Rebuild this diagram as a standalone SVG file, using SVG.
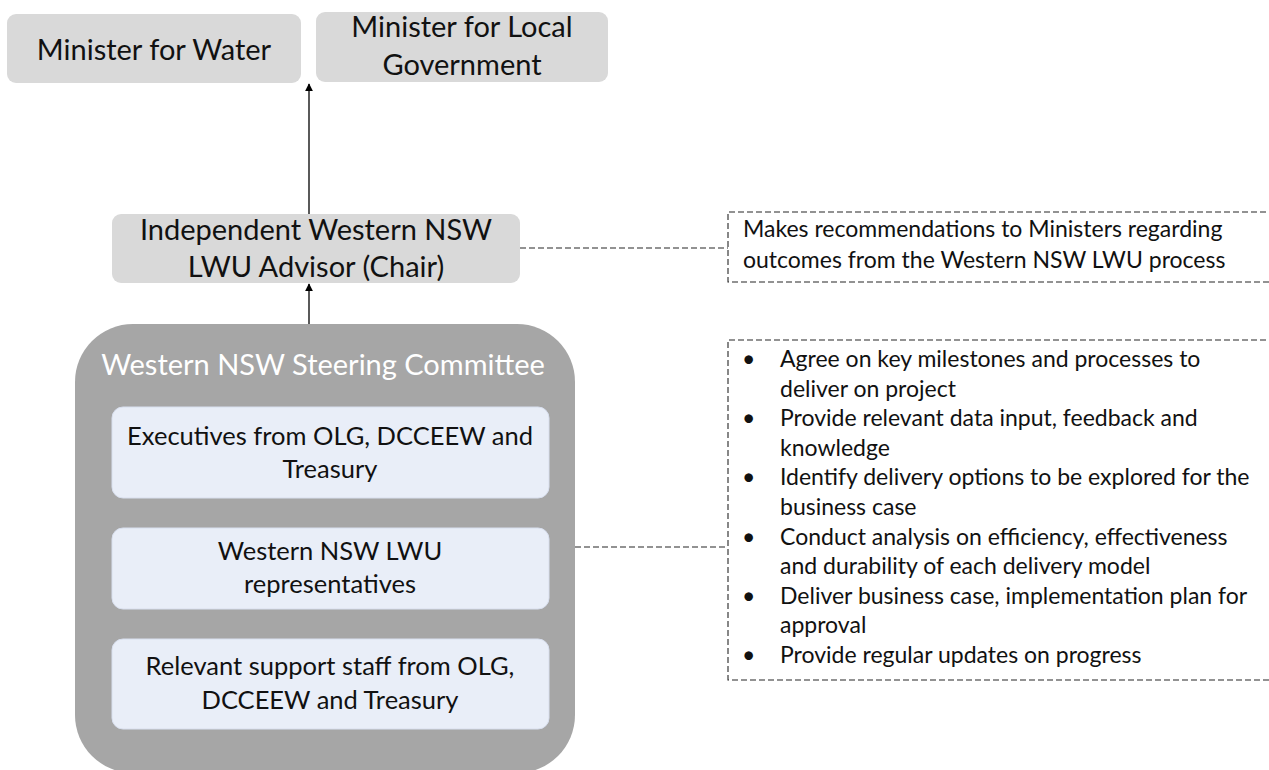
<svg xmlns="http://www.w3.org/2000/svg" width="1269" height="770" viewBox="0 0 1269 770">
  <style>
    .lbl { font-family: Lato, "Open Sans", "Liberation Sans", sans-serif; font-size: 29px; fill: #111; text-anchor: middle; }
    .sub { font-size: 25.5px; }
    .title { fill: #fff; }
    .note { font-family: Lato, "Open Sans", "Liberation Sans", sans-serif; font-size: 23px; fill: #111; }
    .grey { fill: #d9d9d9; }
    .member { fill: #e9eef8; stroke: #d8dfee; stroke-width: 1; }
    .dash { fill: none; stroke: #262626; stroke-width: 1.1; stroke-dasharray: 6 3; }
    .arrow { stroke: #000; stroke-width: 1.3; fill: none; marker-end: url(#head); }
  </style>
  <defs>
    <marker id="head" viewBox="0 0 10 10" refX="9" refY="5" markerWidth="8" markerHeight="8" markerUnits="userSpaceOnUse" orient="auto">
      <path d="M0,0 L10,5 L0,10 Z" fill="#000"/>
    </marker>
  </defs>
  <rect width="1269" height="770" fill="#fff"/>

  <g id="minister-water">
    <rect class="grey" x="7" y="14" width="294" height="69" rx="9"/>
    <text class="lbl" x="154" y="60">Minister for Water</text>
  </g>

  <g id="minister-local-government">
    <rect class="grey" x="316" y="12" width="292" height="70" rx="9"/>
    <text class="lbl" x="462" y="37">Minister for Local</text>
    <text class="lbl" x="462" y="75">Government</text>
  </g>

  <g id="advisor">
    <rect class="grey" x="112" y="214" width="408" height="69" rx="9"/>
    <text class="lbl" x="316" y="240">Independent Western NSW</text>
    <text class="lbl" x="316" y="277">LWU Advisor (Chair)</text>
  </g>

  <g id="steering-committee">
    <rect x="75" y="324" width="500" height="449" rx="58" fill="#a6a6a6"/>
    <text class="lbl title" x="323" y="375">Western NSW Steering Committee</text>
    <g id="executives">
      <rect class="member" x="112" y="407" width="437" height="91" rx="11"/>
      <text class="lbl sub" x="330" y="445">Executives from OLG, DCCEEW and</text>
      <text class="lbl sub" x="330" y="478">Treasury</text>
    </g>
    <g id="lwu-representatives">
      <rect class="member" x="112" y="528" width="437" height="81" rx="11"/>
      <text class="lbl sub" x="330" y="560">Western NSW LWU</text>
      <text class="lbl sub" x="330" y="593">representatives</text>
    </g>
    <g id="support-staff">
      <rect class="member" x="112" y="639" width="437" height="90" rx="11"/>
      <text class="lbl sub" x="330" y="675">Relevant support staff from OLG,</text>
      <text class="lbl sub" x="330" y="709">DCCEEW and Treasury</text>
    </g>
  </g>

  <g id="advisor-role">
    <path class="dash" d="M1275,212 H728 V282 H1275"/>
    <text class="note" x="743" y="237">Makes recommendations to Ministers regarding</text>
    <text class="note" x="743" y="268">outcomes from the Western NSW LWU process</text>
  </g>

  <g id="committee-role">
    <path class="dash" d="M1275,340 H728 V680 H1275"/>
    <g class="note">
      <text x="742" y="367">•</text><text x="780" y="367">Agree on key milestones and processes to</text>
      <text x="780" y="396.6">deliver on project</text>
      <text x="742" y="426.2">•</text><text x="780" y="426.2">Provide relevant data input, feedback and</text>
      <text x="780" y="455.8">knowledge</text>
      <text x="742" y="485.4">•</text><text x="780" y="485.4">Identify delivery options to be explored for the</text>
      <text x="780" y="515">business case</text>
      <text x="742" y="544.6">•</text><text x="780" y="544.6">Conduct analysis on efficiency, effectiveness</text>
      <text x="780" y="574.2">and durability of each delivery model</text>
      <text x="742" y="603.8">•</text><text x="780" y="603.8">Deliver business case, implementation plan for</text>
      <text x="780" y="633.4">approval</text>
      <text x="742" y="663">•</text><text x="780" y="663">Provide regular updates on progress</text>
    </g>
  </g>

  <g id="connectors">
    <line class="arrow" x1="309" y1="214" x2="309" y2="84"/>
    <line class="arrow" x1="309" y1="324" x2="309" y2="284"/>
    <line class="dash" x1="520" y1="248" x2="728" y2="248"/>
    <line class="dash" x1="575" y1="547" x2="728" y2="547"/>
  </g>
</svg>
